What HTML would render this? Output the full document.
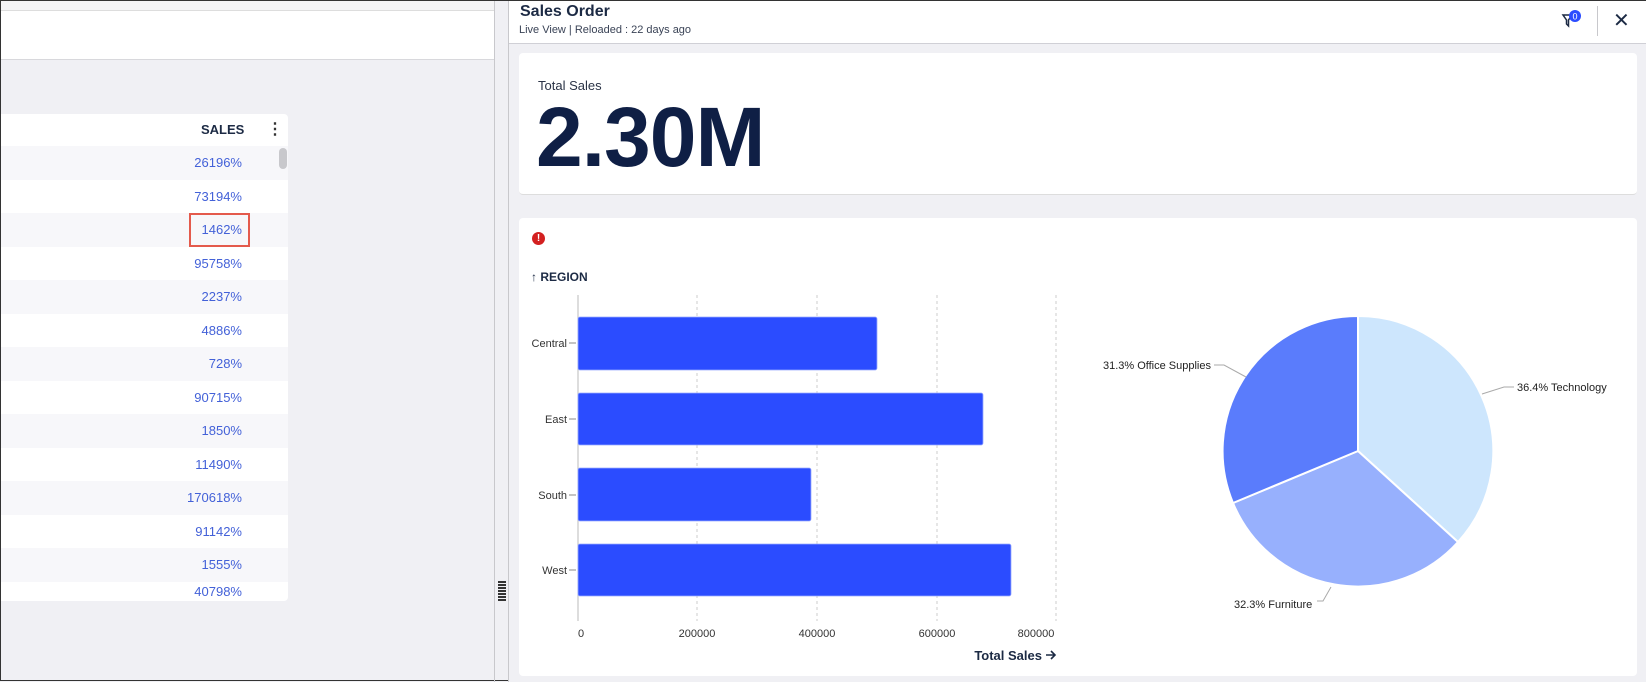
<!DOCTYPE html>
<html><head><meta charset="utf-8"><style>
*{margin:0;padding:0;box-sizing:border-box}
body{width:1646px;height:681px;overflow:hidden;background:#f0f0f4;font-family:"Liberation Sans",sans-serif;position:relative;border:1px solid #333}
.a{position:absolute}
.row{position:absolute;left:0;width:287px;height:34px;font-size:13px;color:#4361d8;text-align:right;padding-right:46px;line-height:34px}
</style></head><body>
<div class="a" style="left:0;top:0;width:493px;height:10px;background:#f4f4f6;border-bottom:1px solid #ddd"></div>
<div class="a" style="left:0;top:10px;width:493px;height:49px;background:#fff;border-bottom:1px solid #d8d8dc"></div>
<div class="a" style="left:0;top:113px;width:287px;height:487px;background:#fff;border-radius:0 4px 4px 0"></div>
<div class="a" style="left:200px;top:121px;font-size:13px;font-weight:bold;color:#1c2a44">SALES</div>
<div class="a" style="left:266px;top:118px;font-size:16px;font-weight:bold;color:#333">⋮</div>
<div class="row" style="top:145px;background:#f7f7fa">26196%</div>
<div class="row" style="top:179px">73194%</div>
<div class="row" style="top:212px;background:#f7f7fa">1462%</div>
<div class="row" style="top:246px">95758%</div>
<div class="row" style="top:279px;background:#f7f7fa">2237%</div>
<div class="row" style="top:313px">4886%</div>
<div class="row" style="top:346px;background:#f7f7fa">728%</div>
<div class="row" style="top:380px">90715%</div>
<div class="row" style="top:413px;background:#f7f7fa">1850%</div>
<div class="row" style="top:447px">11490%</div>
<div class="row" style="top:480px;background:#f7f7fa">170618%</div>
<div class="row" style="top:514px">91142%</div>
<div class="row" style="top:547px;background:#f7f7fa">1555%</div>
<div class="row" style="top:581px;height:19px;line-height:19px">40798%</div>
<div class="a" style="left:188px;top:212px;width:61px;height:34px;border:2px solid #e45a4c"></div>
<div class="a" style="left:278px;top:147px;width:8px;height:21px;background:#c8c8cc;border-radius:4px"></div>
<div class="a" style="left:493px;top:0;width:1px;height:681px;background:#c8c8cc"></div>
<div class="a" style="left:507px;top:0;width:1139px;height:681px;background:#f0f0f4;border-left:1px solid #c8c8cc"></div>
<div class="a" style="left:497px;top:580px;width:8px;height:20px;background:repeating-linear-gradient(#333 0 2px,transparent 2px 3px)"></div>
<div class="a" style="left:508px;top:0;width:1138px;height:43px;background:#fff;border-bottom:1px solid #d0d0d6"></div>
<div class="a" style="left:519px;top:2px;font-size:16px;font-weight:bold;color:#1c2a44">Sales Order</div>
<div class="a" style="left:518px;top:23px;font-size:11px;color:#3a4356">Live View | Reloaded : 22 days ago</div>
<svg class="a" style="left:1560px;top:8px" width="22" height="20"><path d="M2 6h9l-3.5 5v6l-2-2v-4z" fill="none" stroke="#1c2a44" stroke-width="1.5"/><circle cx="14" cy="7" r="6" fill="#2b4cff"/><text x="14" y="10.5" font-size="9" fill="#fff" text-anchor="middle" font-family="Liberation Sans">0</text></svg>
<div class="a" style="left:1596px;top:5px;width:1px;height:30px;background:#c8c8cc"></div>
<div class="a" style="left:1612px;top:7px;font-size:20px;color:#1c2a44">✕</div>
<div class="a" style="left:518px;top:52px;width:1118px;height:142px;background:#fff;border-radius:4px;border-bottom:1px solid #ddd"></div>
<div class="a" style="left:537px;top:77px;font-size:13px;color:#2a3346">Total Sales</div>
<div class="a" style="left:535px;top:91px;font-size:84px;font-weight:bold;color:#0f1f45;letter-spacing:-1px;line-height:90px">2.30M</div>
<div class="a" style="left:518px;top:217px;width:1118px;height:458px;background:#fff;border-radius:4px"></div>
<div class="a" style="left:531px;top:231px;width:13px;height:13px;border-radius:50%;background:#d32020;color:#fff;font-size:10px;font-weight:bold;text-align:center;line-height:13px">!</div>
<div class="a" style="left:530px;top:269px;font-size:12px;font-weight:bold;color:#1c2a44">↑ REGION</div>
<svg class="a" style="left:0;top:0" width="1646" height="681" font-family="Liberation Sans">
<g stroke="#ccc" stroke-dasharray="3,3"><line x1="696" y1="294" x2="696" y2="620"/><line x1="816" y1="294" x2="816" y2="620"/><line x1="936" y1="294" x2="936" y2="620"/><line x1="1055" y1="294" x2="1055" y2="620"/></g>
<line x1="577" y1="294" x2="577" y2="620" stroke="#bbb"/>
<g fill="#2b4cff" stroke="#9aabff" stroke-width="0.8"><rect x="577" y="316" width="299" height="53" rx="2"/><rect x="577" y="392" width="405" height="52" rx="2"/><rect x="577" y="467" width="233" height="53" rx="2"/><rect x="577" y="543" width="433" height="52" rx="2"/></g>
<g stroke="#888"><line x1="568" y1="342" x2="575" y2="342"/><line x1="568" y1="418" x2="575" y2="418"/><line x1="568" y1="494" x2="575" y2="494"/><line x1="568" y1="569" x2="575" y2="569"/></g>
<g font-size="11" fill="#333" text-anchor="end"><text x="566" y="346">Central</text><text x="566" y="422">East</text><text x="566" y="498">South</text><text x="566" y="573">West</text></g>
<g font-size="11" fill="#333" text-anchor="middle"><text x="580" y="636">0</text><text x="696" y="636">200000</text><text x="816" y="636">400000</text><text x="936" y="636">600000</text><text x="1035" y="636">800000</text></g>
<text x="1041" y="659" font-size="13" font-weight="bold" fill="#1c2a44" text-anchor="end">Total Sales</text>
<path d="M1045 654h9m-4-4l4 4-4 4" stroke="#1c2a44" stroke-width="1.6" fill="none"/>
<g stroke="#fff" stroke-width="2">
<path d="M1357 450 L1357 315 A135 135 0 0 1 1457 541 Z" fill="#cde6fd"/>
<path d="M1357 450 L1457 541 A135 135 0 0 1 1232 502 Z" fill="#97b0fd"/>
<path d="M1357 450 L1232 502 A135 135 0 0 1 1357 315 Z" fill="#5a7cfc"/>
</g>
<g stroke="#aaa" fill="none"><path d="M1213 364h10l22 12"/><path d="M1513 386h-10l-22 7"/><path d="M1316 600h6l8-14"/></g>
<g font-size="11" fill="#222"><text x="1210" y="368" text-anchor="end">31.3% Office Supplies</text><text x="1516" y="390">36.4% Technology</text><text x="1233" y="607">32.3% Furniture</text></g>
</svg>
</body></html>
